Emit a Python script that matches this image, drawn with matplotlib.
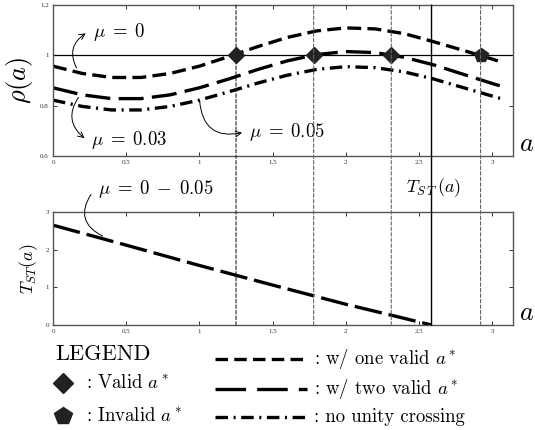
import numpy as np
import matplotlib
matplotlib.use('Agg')
import matplotlib.pyplot as plt
from matplotlib.patches import ConnectionPatch
from matplotlib.lines import Line2D

plt.rcParams['mathtext.fontset'] = 'cm'
plt.rcParams['font.family'] = ['cmr10', 'DejaVu Serif']
plt.rcParams['axes.unicode_minus'] = False
plt.rcParams['lines.scale_dashes'] = False

# rho(a)
a_top = [0.0, 0.2, 0.4, 0.6, 0.8, 1.0, 1.2, 1.4, 1.6, 1.8, 2.0, 2.2, 2.4, 2.6, 2.8, 3.0, 3.07]
rho_mu0 = [0.957, 0.928, 0.912, 0.912, 0.928, 0.957, 0.995, 1.035, 1.071, 1.097, 1.109, 1.105, 1.086, 1.054, 1.020, 0.985, 0.972]
rho_mu003 = [0.871, 0.843, 0.828, 0.828, 0.843, 0.871, 0.906, 0.944, 0.978, 1.003, 1.015, 1.011, 0.992, 0.962, 0.925, 0.888, 0.876]
rho_mu005 = [0.822, 0.797, 0.783, 0.783, 0.797, 0.822, 0.855, 0.890, 0.921, 0.944, 0.955, 0.951, 0.934, 0.906, 0.872, 0.838, 0.826]

# T_ST(a)
a_bot = [0.0, 0.5, 1.0, 1.5, 2.0, 2.3, 2.585]
tst = [2.65, 2.12, 1.58, 1.06, 0.55, 0.27, 0.0]

valid_a = [1.25, 1.78, 2.31]
invalid_a = [2.92]
a_st = 2.585

xticks = [0, 0.5, 1, 1.5, 2, 2.5, 3]
xticklabels = ['0', '0.5', '1', '1.5', '2', '2.5', '3']
yticks_top = [0.6, 0.8, 1.0, 1.2]
yticklabels_top = ['0.6', '0.8', '1', '1.2']
yticks_bot = [0, 1, 2, 3]
yticklabels_bot = ['0', '1', '2', '3']

short_dash = (0, (10, 4.5))
long_dash = (0, (18, 6))
dash_dot = (0, (9, 4, 1.5, 4))

fig = plt.figure(figsize=(5.35, 4.3), dpi=100)
ax1 = fig.add_axes([0.0991, 0.6372, 0.8598, 0.3512])
ax2 = fig.add_axes([0.0991, 0.2442, 0.8598, 0.2628])

for ax in (ax1, ax2):
    ax.set_xlim(0, np.pi)
    ax.set_xticks(xticks)
    ax.set_xticklabels(xticklabels, fontfamily='Liberation Serif', fontsize=5)
    ax.tick_params(direction='in', top=True, right=True, length=3, width=0.7,
                   colors='#333333', pad=3)
    for s in ax.spines.values():
        s.set_color('#555555')
        s.set_linewidth(1.0)

ax1.set_ylim(0.6, 1.2)
ax1.set_yticks(yticks_top)
ax1.set_yticklabels(yticklabels_top, fontfamily='Liberation Serif', fontsize=5)
ax2.set_ylim(0, 3)
ax2.set_yticks(yticks_bot)
ax2.set_yticklabels(yticklabels_bot, fontfamily='Liberation Serif', fontsize=5)

lw = 2.4
ax1.axhline(1.0, color='black', lw=0.9)
ax1.plot(a_top, rho_mu0, color='black', lw=lw, linestyle=short_dash)
ax1.plot(a_top, rho_mu003, color='black', lw=lw, linestyle=long_dash)
ax1.plot(a_top, rho_mu005, color='black', lw=lw, linestyle=dash_dot)
ax1.plot(valid_a, [1.0] * len(valid_a), linestyle='none', marker='D', ms=8,
         color='#222222', zorder=5)
ax1.plot(invalid_a, [1.0] * len(invalid_a), linestyle='none', marker='p', ms=10,
         color='#222222', zorder=5)

ax2.plot(a_bot, tst, color='black', lw=lw, linestyle=(0, (20, 5)))

# vertical lines across both panels
for i, xv in enumerate(valid_a + invalid_a):
    cp = ConnectionPatch((xv, 1.2), (xv, 0), coordsA='data', coordsB='data',
                         axesA=ax1, axesB=ax2, color='#222222' if i == 0 else '#666666',
                         lw=0.8, linestyle=(0, (2.5, 1.5)))
    fig.add_artist(cp)
cp = ConnectionPatch((a_st, 1.2), (a_st, 0), coordsA='data', coordsB='data',
                     axesA=ax1, axesB=ax2, color='black', lw=1.0)
fig.add_artist(cp)

ax1.set_ylabel(r'$\rho(a)$', fontsize=19, labelpad=4)
ax2.set_ylabel(r'$T_{ST}(a)$', fontsize=13, labelpad=4)
ax1.text(1.012, 0.0, r'$a$', transform=ax1.transAxes, fontsize=19, va='bottom', ha='left')
ax2.text(1.012, 0.0, r'$a$', transform=ax2.transAxes, fontsize=19, va='bottom', ha='left')
ax2.text(2.41, 3.64, r'$T_{S\,T}\,(a)$', fontsize=13, ha='left', va='center')

# annotations
fs_mu = 13.5
ax1.text(0.27, 1.093, r'$\mu\;=\;0$', fontsize=fs_mu, va='center', ha='left')
ax1.annotate('', xy=(0.24, 1.093), xytext=(0.17, 0.94),
             arrowprops=dict(arrowstyle='->', lw=0.7, connectionstyle='arc3,rad=-0.5'))
ax1.text(0.26, 0.664, r'$\mu\;=\;0.03$', fontsize=fs_mu, va='center', ha='left')
ax1.annotate('', xy=(0.23, 0.664), xytext=(0.185, 0.842),
             arrowprops=dict(arrowstyle='->', lw=0.7, connectionstyle='arc3,rad=0.5'))
ax1.text(1.34, 0.695, r'$\mu\;=\;0.05$', fontsize=fs_mu, va='center', ha='left')
ax1.annotate('', xy=(1.31, 0.695), xytext=(1.0, 0.83),
             arrowprops=dict(arrowstyle='->', lw=0.7, connectionstyle='arc3,rad=0.6'))
ax2.text(0.31, 3.6, r'$\mu\;=\;0\;-\;0.05$', fontsize=fs_mu, va='center', ha='left')
ax2.annotate('', xy=(0.27, 3.53), xytext=(0.355, 2.33), annotation_clip=False,
             arrowprops=dict(arrowstyle='-', lw=0.7, connectionstyle='arc3,rad=-0.6'))

# legend drawn by hand
fs_leg = 13.5
fig.text(55 / 535, 1 - 354 / 430, 'LEGEND', fontsize=16, va='center', ha='left')
fig.add_artist(Line2D([63 / 535], [1 - 383 / 430], marker='D', ms=10, color='#222222',
                      linestyle='none'))
fig.text(86 / 535, 1 - 383 / 430, r': Valid $a^*$', fontsize=fs_leg, va='center', ha='left')
fig.add_artist(Line2D([63 / 535], [1 - 416 / 430], marker='p', ms=13, color='#222222',
                      linestyle='none'))
fig.text(86 / 535, 1 - 416 / 430, r': Invalid $a^*$', fontsize=fs_leg, va='center', ha='left')

leg_styles = [(0, (9, 4.5)), (0, (22, 8, 22, 8, 9, 8)), (0, (9, 4, 1.5, 4))]
leg_labels = [r': w/ one valid $a^*$', r': w/ two valid $a^*$', ': no unity crossing']
leg_y = [359, 389, 417]
for st, lab, yy in zip(leg_styles, leg_labels, leg_y):
    yf = 1 - yy / 430
    fig.add_artist(Line2D([215 / 535, 307 / 535], [yf, yf], color='black', lw=2.4,
                          linestyle=st))
    fig.text(314 / 535, yf, lab, fontsize=fs_leg, va='center', ha='left')

fig.savefig('out.png', dpi=100)
